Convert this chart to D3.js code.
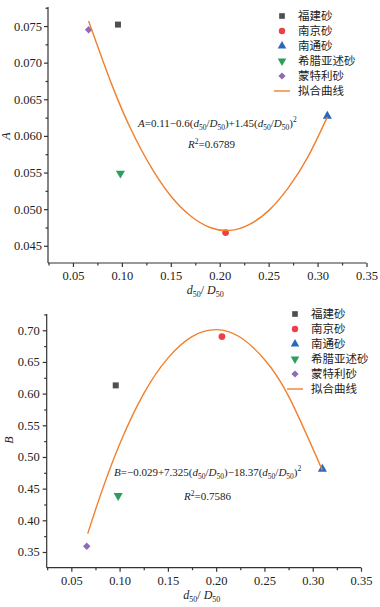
<!DOCTYPE html>
<html lang="zh">
<head>
<meta charset="UTF-8">
<title>d50/D50 拟合</title>
<script src="https://d3js.org/d3.v7.min.js"></script>
<style>
  body { margin: 0; background: #fff; }
  svg text { font-family: "Liberation Serif", "DejaVu Serif", serif; fill: #222; }
  .cjk { font-family: "Noto Sans CJK SC", sans-serif; }
</style>
</head>
<body>
<div id="chart"></div>
<script>
// legend names
const sands = ["福建砂", "南京砂", "南通砂", "希腊亚述砂", "蒙特利砂"];
const fitName = "拟合曲线";

// d50/D50 for each sand
const ratio = [0.096, 0.206, 0.310, 0.0985, 0.066];
const valuesA = [0.0752, 0.0468, 0.0627, 0.0549, 0.0745];
const valuesB = [0.613, 0.690, 0.481, 0.439, 0.359];

// fitted curve
const fitXA = [0.066, 0.09, 0.11, 0.13, 0.15, 0.17, 0.19, 0.21, 0.23, 0.25, 0.27, 0.29, 0.31];
const fitYA = [0.0757, 0.0669, 0.0607, 0.0557, 0.0518, 0.0491, 0.0475, 0.0471, 0.0479, 0.0498, 0.0529, 0.0571, 0.0626];
const fitXB = [0.067, 0.08, 0.10, 0.125, 0.15, 0.175, 0.20, 0.225, 0.25, 0.275, 0.31];
const fitYB = [0.379, 0.439, 0.520, 0.600, 0.656, 0.690, 0.701, 0.689, 0.654, 0.596, 0.479];

const xTicks = [0.05, 0.10, 0.15, 0.20, 0.25, 0.30, 0.35];
const yTicksA = [0.045, 0.050, 0.055, 0.060, 0.065, 0.070, 0.075];
const yTicksB = [0.35, 0.40, 0.45, 0.50, 0.55, 0.60, 0.65, 0.70];

const colors = ["#4f4f4f", "#ee3e46", "#2a68c0", "#2c9e5c", "#8e6bb5"];
const shapes = [d3.symbolSquare, d3.symbolCircle, d3.symbolTriangle, d3.symbolTriangle, d3.symbolSquare];
const turn = [0, 0, 0, 180, 45];
const fitColor = "#f0802e";

const svg = d3.select("#chart").append("svg")
  .attr("width", 380).attr("height", 607);

function sym(i, size) {
  return d3.symbol().type(shapes[i]).size(size)();
}

function drawPanel(o) {
  const x = d3.scaleLinear().domain([0.0245, 0.35]).range([o.left, o.right]);
  const y = d3.scaleLinear().domain(o.yDomain).range([o.bottom, o.top]);
  const g = svg.append("g");

  // minor ticks
  const xMinor = d3.range(0.025, 0.35, 0.05);
  g.append("g").attr("transform", `translate(0,${o.bottom})`)
    .call(d3.axisBottom(x).tickValues(xMinor).tickSize(2.5).tickFormat(""))
    .call(a => a.select(".domain").remove());
  const yMinor = o.yTicks.map(v => v + o.yStep / 2).filter(v => y(v) > o.top);
  g.append("g").attr("transform", `translate(${o.left},0)`)
    .call(d3.axisLeft(y).tickValues(yMinor).tickSize(2.5).tickFormat(""))
    .call(a => a.select(".domain").remove());

  const xa = g.append("g").attr("transform", `translate(0,${o.bottom})`)
    .call(d3.axisBottom(x).tickValues(xTicks).tickSize(4).tickPadding(4).tickSizeOuter(0).tickFormat(d3.format(".2f")));
  xa.select(".domain").attr("d", `M${o.left},0H${o.right}`);
  const ya = g.append("g").attr("transform", `translate(${o.left},0)`)
    .call(d3.axisLeft(y).tickValues(o.yTicks).tickSize(4).tickPadding(o.yPad).tickSizeOuter(0).tickFormat(d3.format(o.fmt)));
  ya.select(".domain").attr("d", `M0,${o.bottom}V${o.top}`);
  g.selectAll(".tick text").attr("font-size", 12.5).attr("font-family", "Liberation Serif").attr("fill", "#222");
  g.selectAll(".domain, .tick line").attr("stroke", "#333").attr("stroke-width", 1.2);

  // points
  g.selectAll(".pt").data(o.vals).enter().append("path")
    .attr("transform", (d, i) => `translate(${x(ratio[i])},${y(d)}) rotate(${turn[i]})`)
    .attr("d", (d, i) => sym(i, i === 4 ? 28 : 36))
    .attr("fill", (d, i) => colors[i]);

  // fitted curve
  const pts = o.fitX.map((v, i) => [v, o.fitY[i]]);
  g.append("path").datum(pts)
    .attr("fill", "none").attr("stroke", fitColor).attr("stroke-width", 1.4)
    .attr("d", d3.line().x(d => x(d[0])).y(d => y(d[1])).curve(d3.curveNatural));

  // legend
  const lg = g.append("g").attr("transform", `translate(${o.legX},${o.legY})`);
  sands.forEach((s, i) => {
    lg.append("path").attr("transform", `translate(0,${i * 15}) rotate(${turn[i]})`)
      .attr("d", sym(i, i === 4 ? 26 : 32)).attr("fill", colors[i]);
    lg.append("text").attr("class", "cjk").attr("x", 16).attr("y", i * 15 + 4)
      .attr("font-size", 11.5).text(s);
  });
  lg.append("line").attr("x1", -8).attr("x2", 8).attr("y1", 75).attr("y2", 75)
    .attr("stroke", fitColor).attr("stroke-width", 1.4);
  lg.append("text").attr("class", "cjk").attr("x", 16).attr("y", 79).attr("font-size", 11.5).text(fitName);

  // axis titles
  const xt = g.append("text").attr("x", (o.left + o.right) / 2 - 2).attr("y", o.bottom + 31)
    .attr("text-anchor", "middle").attr("font-size", 12);
  xt.append("tspan").attr("font-style", "italic").text("d");
  xt.append("tspan").attr("font-size", 8).attr("dy", 3).text("50");
  xt.append("tspan").attr("dy", -3).text("/ ");
  xt.append("tspan").attr("font-style", "italic").text("D");
  xt.append("tspan").attr("font-size", 8).attr("dy", 3).text("50");

  g.append("text").attr("transform", `translate(${o.yLabelX},${o.yLabelY}) rotate(-90)`)
    .attr("text-anchor", "middle").attr("font-size", 12).attr("font-style", "italic").text(o.yName);

  // equation
  const eq = g.append("text").attr("x", o.eqX).attr("y", o.eqY).attr("font-size", 11);
  const ratioSpan = (t) => {
    t.append("tspan").attr("font-style", "italic").text("d");
    t.append("tspan").attr("font-size", 7.5).attr("dy", 2.5).text("50");
    t.append("tspan").attr("dy", -2.5).text("/");
    t.append("tspan").attr("font-style", "italic").text("D");
    t.append("tspan").attr("font-size", 7.5).attr("dy", 2.5).text("50");
  };
  eq.append("tspan").attr("font-style", "italic").text(o.yName);
  eq.append("tspan").text(o.eqParts[0] + "(");
  ratioSpan(eq);
  eq.append("tspan").attr("dy", -2.5).text(")" + o.eqParts[1] + "(");
  ratioSpan(eq);
  eq.append("tspan").attr("dy", -2.5).text(")");
  eq.append("tspan").attr("font-size", 7.5).attr("dy", -5).text("2");

  const r2 = g.append("text").attr("x", o.r2X).attr("y", o.eqY + o.r2Gap).attr("font-size", 11);
  r2.append("tspan").attr("font-style", "italic").text("R");
  r2.append("tspan").attr("font-size", 7.5).attr("dy", -4).text("2");
  r2.append("tspan").attr("dy", 4).text("=" + o.r2);
}

drawPanel({
  left: 48, right: 366.5, top: 7, bottom: 263,
  yDomain: [0.04265, 0.0776], yTicks: yTicksA, yStep: 0.005, fmt: ".3f", yPad: 2,
  vals: valuesA, fitX: fitXA, fitY: fitYA, yName: "A", yLabelX: 10, yLabelY: 136,
  legX: 282, legY: 16,
  eqX: 138, eqY: 127, eqParts: ["=0.11\u22120.6", "+1.45"], r2X: 188, r2Gap: 21, r2: "0.6789"
});

drawPanel({
  left: 46.7, right: 361, top: 314, bottom: 567.7,
  yDomain: [0.3252, 0.7257], yTicks: yTicksB, yStep: 0.05, fmt: ".2f", yPad: 3,
  vals: valuesB, fitX: fitXB, fitY: fitYB, yName: "B", yLabelX: 13, yLabelY: 440,
  legX: 295, legY: 314,
  eqX: 114, eqY: 476, eqParts: ["=\u22120.029+7.325", "\u221218.37"], r2X: 184, r2Gap: 24, r2: "0.7586"
});
</script>
</body>
</html>
